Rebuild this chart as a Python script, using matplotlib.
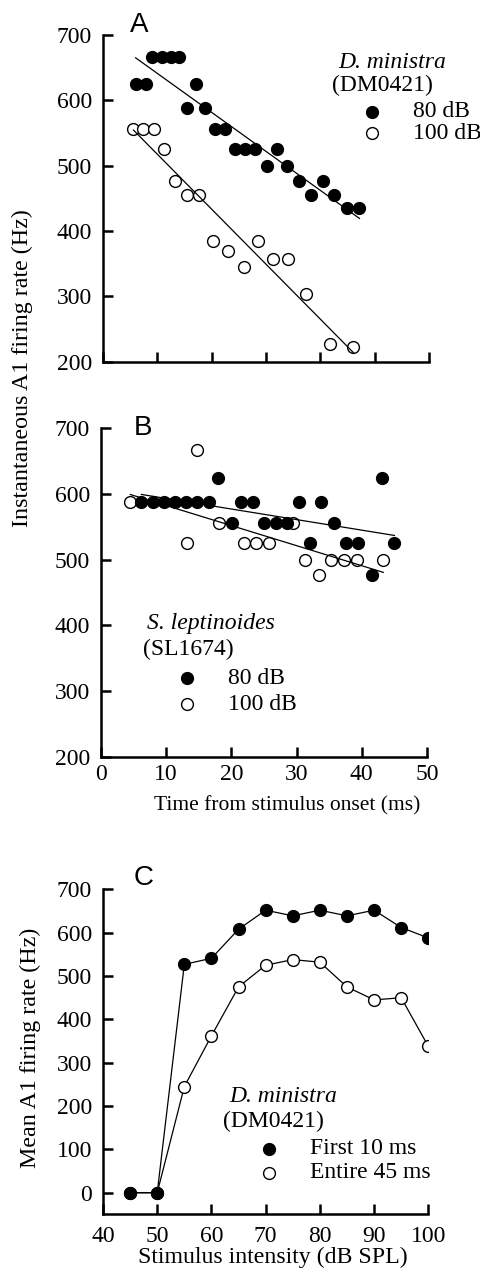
import numpy as np
import matplotlib
matplotlib.use('Agg')
import matplotlib.pyplot as plt
from matplotlib.lines import Line2D

plt.rcParams['font.family'] = ['Liberation Serif', 'DejaVu Serif']

W, H = 481, 1278

# ---------------- data ----------------
# Panel A: D. ministra (DM0421)
a80_t = [6.0, 7.9, 9.1, 10.8, 12.5, 14.0, 15.4, 17.1, 18.8, 20.7, 22.5, 24.3,
         26.2, 28.0, 30.2, 32.0, 33.9, 36.0, 38.2, 40.5, 42.6, 44.9, 47.2]
a80_r = [625, 625, 667, 667, 667, 667, 588, 625, 588, 556, 556, 526,
         526, 526, 500, 526, 500, 476, 455, 476, 455, 435, 435]
a100_t = [5.6, 7.4, 9.3, 11.3, 13.3, 15.4, 17.7, 20.2, 23.0, 25.9, 28.5,
          31.2, 34.0, 37.3, 41.7, 46.1]
a100_r = [556, 556, 556, 526, 476, 455, 455, 385, 370, 345, 385,
          357, 357, 303, 227, 222]

# Panel B: S. leptinoides (SL1674)
b80_t = [6.2, 7.9, 9.6, 11.4, 13.1, 14.8, 16.5, 18.0, 20.1, 21.5, 23.3, 25.0,
         26.8, 28.6, 30.3, 32.1, 33.8, 35.7, 37.6, 39.4, 41.5, 43.1, 45.0]
b80_r = [588, 588, 588, 588, 588, 588, 588, 625, 556, 588, 588, 556,
         556, 556, 588, 526, 588, 556, 526, 526, 476, 625, 526]
b100_t = [4.5, 13.2, 14.7, 18.1, 22.0, 23.8, 25.7, 29.4, 31.3, 33.4, 35.3,
          37.3, 39.3, 43.3]
b100_r = [588, 526, 667, 556, 526, 526, 526, 556, 500, 476, 500,
          500, 500, 500]

# Panel C: mean firing rate vs intensity
c_db = [45, 50, 55, 60, 65, 70, 75, 80, 85, 90, 95, 100]
c_first = [0, 0, 527, 541, 608, 652, 639, 652, 639, 652, 612, 588]
c_entire = [0, 0, 245, 362, 475, 525, 538, 532, 475, 445, 450, 338]

# ---------------- figure ----------------
fig = plt.figure(figsize=(W / 100, H / 100), dpi=100)


def ax_px(left, top, right, bottom):
    return fig.add_axes([left / W, 1 - bottom / H, (right - left) / W, (bottom - top) / H])


def fx(x):
    return x / W


def fy(y):
    return 1 - y / H


TFS = 17
LFS = 17
MS = 8.5


def style(ax, xpad):
    for s in ['top', 'right']:
        ax.spines[s].set_visible(False)
    for s in ['left', 'bottom']:
        ax.spines[s].set_linewidth(1.8)
    ax.tick_params(direction='in', length=7.5, width=1.8, labelsize=TFS)
    ax.tick_params(axis='y', pad=8)
    ax.tick_params(axis='x', pad=xpad)


axA = ax_px(103, 35, 429, 361.7)
axB = ax_px(101, 428.3, 427, 756.7)
axC = ax_px(103, 889.4, 428.3, 1214.4)

# Panel A
axA.plot(a80_t, a80_r, 'o', ms=MS, mfc='black', mec='black', zorder=3)
axA.plot(a100_t, a100_r, 'o', ms=MS, mfc='white', mec='black', mew=1.0, zorder=2)
for t, r in [(a80_t, a80_r), (a100_t, a100_r)]:
    p = np.polyfit(t, r, 1)
    xx = np.array([min(t), max(t)])
    axA.plot(xx, np.polyval(p, xx), '-', color='black', lw=0.9, zorder=4)
axA.set_xlim(0, 60)
axA.set_ylim(200, 700)
axA.set_xticks(np.arange(0, 61, 10))
axA.set_xticklabels([])
axA.set_yticks(np.arange(200, 701, 100))
style(axA, 2)

# Panel B
axB.plot(b100_t, b100_r, 'o', ms=MS, mfc='white', mec='black', mew=1.0, zorder=2)
axB.plot(b80_t, b80_r, 'o', ms=MS, mfc='black', mec='black', zorder=3)
for t, r in [(b80_t, b80_r), (b100_t, b100_r)]:
    p = np.polyfit(t, r, 1)
    xx = np.array([min(t), max(t)])
    axB.plot(xx, np.polyval(p, xx), '-', color='black', lw=0.9, zorder=4)
axB.set_xlim(0, 50)
axB.set_ylim(200, 700)
axB.set_xticks(np.arange(0, 51, 10))
axB.set_yticks(np.arange(200, 701, 100))
style(axB, 5)

# Panel C
axC.plot(c_db, c_entire, '-o', color='black', lw=0.9, ms=MS, mfc='white', mec='black', mew=1.0, zorder=2)
axC.plot(c_db, c_first, '-o', color='black', lw=0.9, ms=MS, mfc='black', mec='black', zorder=3)
axC.set_xlim(40, 100)
axC.set_ylim(-50, 700)
axC.set_xticks(np.arange(40, 101, 10))
axC.set_yticks(np.arange(0, 701, 100))
style(axC, 8)

# Panel letters
for lab, x, y in [('A', 130, 32), ('B', 134, 435), ('C', 134, 885)]:
    fig.text(fx(x), fy(y), lab, fontsize=20, family=['Liberation Sans', 'DejaVu Sans'],
             ha='left', va='baseline')

# Axis labels
fig.text(fx(22), fy(368), 'Instantaneous A1 firing rate (Hz)', rotation=90,
         ha='center', va='center', fontsize=17.3)
fig.text(fx(30), fy(1048), 'Mean A1 firing rate (Hz)', rotation=90,
         ha='center', va='center', fontsize=17.3)
fig.text(fx(287), fy(810), 'Time from stimulus onset (ms)', ha='center', va='baseline', fontsize=15.5)
fig.text(fx(273), fy(1263), 'Stimulus intensity (dB SPL)', ha='center', va='baseline', fontsize=17.2)


# Legends (manual)
def legend(x_title, y_title, x_code, y_code, title, code, mx, tx, y1, y2, lab1, lab2):
    fig.text(fx(x_title), fy(y_title), title, style='italic', ha='left', va='center', fontsize=LFS)
    fig.text(fx(x_code), fy(y_code), code, ha='left', va='center', fontsize=LFS)
    fig.add_artist(Line2D([fx(mx)], [fy(y1)], marker='o', ms=MS, mfc='black', mec='black',
                          transform=fig.transFigure))
    fig.add_artist(Line2D([fx(mx)], [fy(y2)], marker='o', ms=MS, mfc='white', mec='black',
                          mew=1.0, transform=fig.transFigure))
    fig.text(fx(tx), fy(y1), lab1, ha='left', va='center', fontsize=LFS)
    fig.text(fx(tx), fy(y2), lab2, ha='left', va='center', fontsize=LFS)


legend(338, 62, 332, 85, 'D. ministra', '(DM0421)', 371.7, 413, 111.7, 133.3, '80 dB', '100 dB')
legend(147, 623, 143, 649, 'S. leptinoides', '(SL1674)', 186.7, 228.3, 678.3, 704.3, '80 dB', '100 dB')
legend(229, 1097, 223, 1121, 'D. ministra', '(DM0421)', 269.3, 310, 1149, 1172.7,
       'First 10 ms', 'Entire 45 ms')

fig.savefig('out.png', dpi=100)
